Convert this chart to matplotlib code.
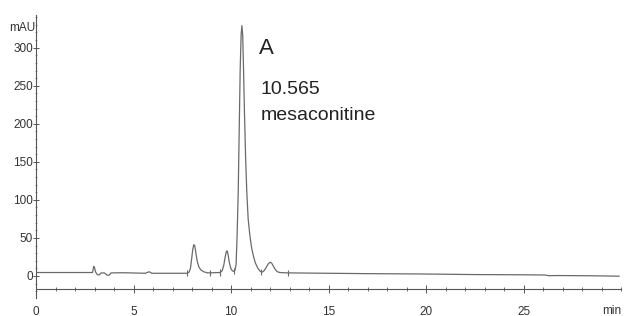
import numpy as np
import matplotlib
matplotlib.use('Agg')
import matplotlib.pyplot as plt
from matplotlib.ticker import MultipleLocator

# chromatogram trace (time in min, signal in mAU)
t = [0.0, 1.5, 2.9, 2.96, 3.0, 3.06, 3.15, 3.25, 3.35, 3.5, 3.65, 3.75, 3.85,
     4.5, 5.6, 5.8, 5.95, 7.0, 7.75,
     7.85, 7.92, 7.98, 8.04, 8.09, 8.14, 8.20, 8.27, 8.35, 8.45, 8.6, 8.8,
     9.45, 9.55, 9.63, 9.70, 9.76, 9.80, 9.85, 9.92, 9.99, 10.06, 10.12,
     10.20, 10.26, 10.31, 10.37, 10.42, 10.47, 10.52, 10.56, 10.60, 10.64,
     10.69, 10.75, 10.81, 10.88, 10.96, 11.05, 11.15, 11.25, 11.38, 11.5,
     11.6, 11.7, 11.8, 11.9, 12.0, 12.08, 12.17, 12.27, 12.38, 12.5, 12.9,
     15.0, 17.0, 19.7, 22.5, 25.0, 26.1, 26.3, 26.7, 27.5, 28.5, 29.9]
mau = [4.5, 4.5, 4.5, 12.5, 11.0, 5.0, 1.5, 1.5, 4.0, 4.0, 1.0, 1.0, 4.0,
       4.2, 3.5, 5.5, 3.5, 3.5, 3.5,
       5.0, 10.0, 22.0, 35.0, 41.0, 40.0, 30.0, 19.0, 12.0, 8.0, 5.5, 4.0,
       4.5, 7.0, 14.0, 25.0, 32.0, 33.0, 28.0, 17.0, 10.0, 7.0, 6.0,
       7.0, 15.0, 50.0, 110.0, 190.0, 270.0, 318.0, 329.0, 316.0, 275.0,
       215.0, 155.0, 110.0, 75.0, 55.0, 38.0, 26.0, 17.0, 10.0, 6.0,
       5.0, 7.0, 11.0, 15.5, 18.0, 17.0, 13.0, 8.5, 5.5, 4.5, 4.0,
       3.5, 3.0, 2.6, 1.8, 1.5, 1.2, 0.3, 0.5, 0.4, 0.2, -0.3]

# integration start/stop marks
marks_t = [7.75, 8.9, 9.42, 10.15, 11.55, 12.9]
marks_y = [3.5, 4.0, 4.5, 6.0, 5.0, 4.0]

yticks = [0, 50, 100, 150, 200, 250, 300]
xticks = [0, 5, 10, 15, 20, 25]

plt.rcParams['font.family'] = ['Liberation Sans', 'DejaVu Sans']

fig = plt.figure(figsize=(6.25, 3.16), dpi=100)
ax = fig.add_axes([36/625, 1-298/316, 585/625, 283/316])

ax.plot(t, mau, color='#6a6a6a', lw=0.9)
ax.vlines(marks_t, np.array(marks_y)-4, np.array(marks_y)+4, color='#6a6a6a', lw=0.8)

ax.set_xlim(0, 30)
ax.set_ylim(-29, 343)
ax.spines['top'].set_visible(False)
ax.spines['right'].set_visible(False)
ax.spines['bottom'].set_position(('data', -17))
for s in ['left', 'bottom']:
    ax.spines[s].set_color('#555555')
    ax.spines[s].set_linewidth(0.8)

ax.set_xticks(xticks)
ax.set_yticks(yticks)
ax.xaxis.set_minor_locator(MultipleLocator(1))
ax.yaxis.set_minor_locator(MultipleLocator(10))
ax.tick_params(axis='x', which='major', direction='inout', length=6, width=0.7,
               colors='#555555', labelcolor='#333333', labelsize=8.5, pad=9)
ax.tick_params(axis='x', which='minor', direction='inout', length=3, width=0.6,
               colors='#555555')
ax.tick_params(axis='y', which='major', direction='inout', length=4, width=0.7,
               colors='#555555', labelcolor='#333333', labelsize=8.5, pad=0)
ax.tick_params(axis='y', which='minor', direction='inout', length=2, width=0.5,
               colors='#777777')

fig.text(35/625, 1-28/316, 'mAU', ha='right', va='center', fontsize=8.5, color='#333333')
fig.text(612/625, 1-311/316, 'min', ha='center', va='center', fontsize=8.5, color='#333333')

ax.text(11.45, 292, 'A', fontsize=16, color='#222222', va='baseline')
ax.text(11.5, 239, '10.565', fontsize=14, color='#222222', va='baseline')
ax.text(11.5, 205, 'mesaconitine', fontsize=14, color='#222222', va='baseline')

fig.savefig('out.png', dpi=100)
